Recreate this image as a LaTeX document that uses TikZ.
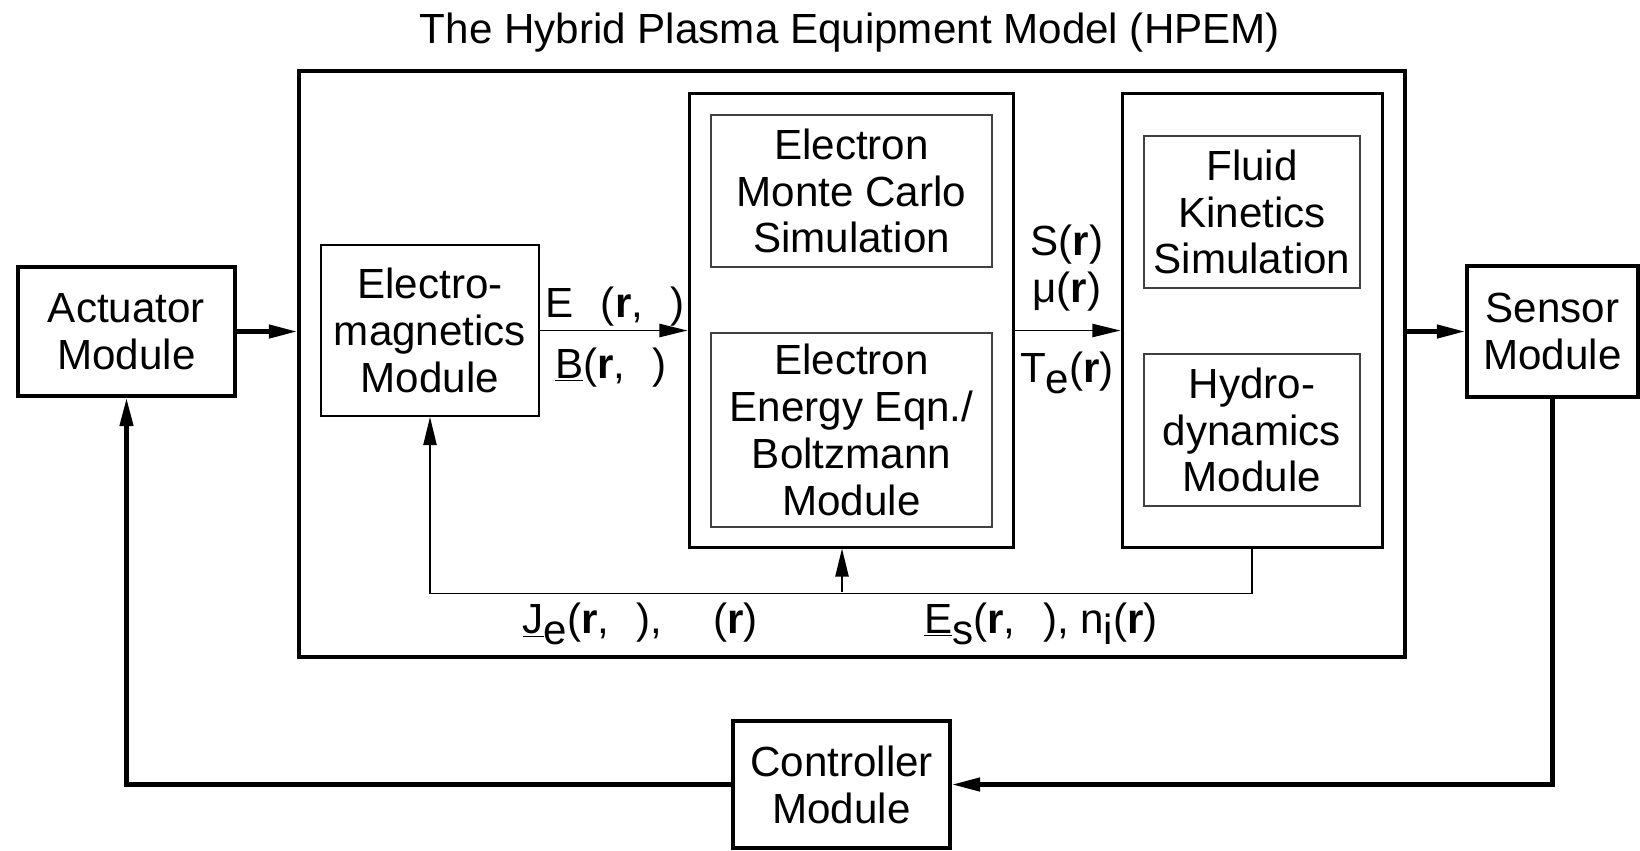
\documentclass[tikz,border=0pt]{standalone}
\usepackage{fontspec}
\setmainfont{Liberation Sans}
\usetikzlibrary{arrows.meta,positioning}
\def\pxu{0.02cm}
\newcommand\lo[1]{\raisebox{-0.28em}{#1}}
\newcommand\vr{\textbf{r}}
\newcommand\gap{\hspace{0.65em}}
\tikzset{
  txt/.style={font={\fontsize{24}{26.7}\selectfont},align=center,inner sep=0pt},
  blk/.style 2 args={txt,draw,minimum width=#1*\pxu,minimum height=#2*\pxu},
  ar/.style={-{Triangle[length=16pt,width=7.5pt]},line width=1.1pt},
  bar/.style={ar,line width=2.3pt}
}

\begin{document}
\begin{tikzpicture}[x=0.02cm,y=-0.02cm]
\useasboundingbox (0,0) rectangle (1640,850);
\node[txt,anchor=base] (ttl) at (850,43) {The Hybrid Plasma Equipment Model (HPEM)};
% outer frame and modules
\node[blk={1106}{586},line width=2.3pt] (hpem) at (852,364) {};
\node[blk={217}{129},line width=2.3pt] (act) at (126.5,331.5) {Actuator\\Module};
\node[blk={171}{131},line width=2.3pt] (sen) at (1552.5,331.5) {Sensor\\Module};
\node[blk={217}{127},line width=2.3pt] (ctl) at (841.5,784.5) {Controller\\Module};
\node[blk={218}{171},line width=1.1pt] (em) at (430,330.5) {Electro-\\magnetics\\Module};
\node[blk={324}{454},line width=1.7pt] (elec) at (851,320) {};
\node[blk={260}{454},line width=1.7pt] (fluid) at (1252,320) {};
\node[blk={281}{152},line width=0.6pt,draw=black!75] (emcs) at (851.5,191) {Electron\\Monte Carlo\\Simulation};
\node[blk={281}{194},line width=0.6pt,draw=black!75] (eeb) at (851.5,430) {Electron\\Energy Eqn./\\Boltzmann\\Module};
\node[blk={216}{152},line width=0.6pt,draw=black!75] (fks) at (1252,212) {Fluid\\Kinetics\\Simulation};
\node[blk={216}{152},line width=0.6pt,draw=black!75] (hyd) at (1252,430) {Hydro-\\dynamics\\Module};
% labels
\node[txt,anchor=base] (efld) at (615,317) {E\gap(\vr,\gap)};
\node[txt,anchor=base] (bfld) at (611,378) {\underline{B}(\vr,\gap)};
\node[txt,anchor=base] (src) at (1067,255) {S(\vr)};
\node[txt,anchor=base] (mob) at (1067,302) {μ(\vr)};
\node[txt,anchor=base] (tmp) at (1067,382) {T\lo{e}(\vr)};
\node[txt,anchor=base] (jflx) at (640,633) {\underline{J}\lo{e}(\vr,\gap),\hspace{1.2em}(\vr)};
\node[txt,anchor=base] (esh) at (1041,633) {\underline{E}\lo{s}(\vr,\gap), n\lo{i}(\vr)};
% connectors
\coordinate (fbm) at (842,592);
\draw[bar] (act.east) -- (act.east -| hpem.west);
\draw[ar] (em.east) -- (em.east -| elec.west);
\draw[ar] (em.east -| elec.east) -- (em.east -| fluid.west);
\draw[bar] (sen.west -| hpem.east) -- (sen.west);
\draw[ar] (fluid.south) -- ++(0,45) -| (em.south);
\draw[ar] (fbm) -- (fbm |- elec.south);
\draw[bar] (sen.south) |- (ctl.east);
\draw[bar] (ctl.west) -| (act.south);
\end{tikzpicture}
\end{document}
